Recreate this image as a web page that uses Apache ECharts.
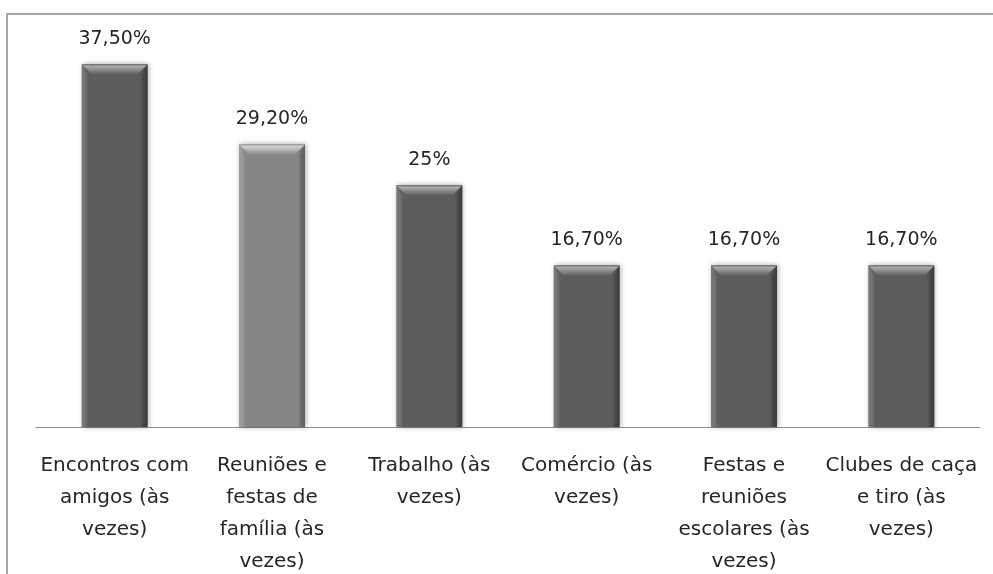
<!DOCTYPE html>
<html>
<head>
<meta charset="utf-8">
<script src="https://cdn.jsdelivr.net/npm/echarts@6/dist/echarts.min.js"></script>
<style>
html,body{margin:0;padding:0;background:#fff;}
#chart{width:993px;height:574px;}
</style>
</head>
<body>
<div id="chart"></div>
<script>
const categories = [
  "Encontros com\namigos (às\nvezes)",
  "Reuniões e\nfestas de\nfamília (às\nvezes)",
  "Trabalho (às\nvezes)",
  "Comércio (às\nvezes)",
  "Festas e\nreuniões\nescolares (às\nvezes)",
  "Clubes de caça\ne tiro (às\nvezes)"
];
const values = [37.5, 29.2, 25, 16.7, 16.7, 16.7];
const highlightIndex = 1;

function fmt(v) {
  if (Number.isInteger(v)) return v + "%";
  return v.toFixed(2).replace(".", ",") + "%";
}

const chart = echarts.init(document.getElementById("chart"), null, {renderer: "canvas"});

function renderItem(params, api) {
  const idx = params.dataIndex;
  const v = api.value(1);
  const topPt = api.coord([api.value(0), v]);
  const basePt = api.coord([api.value(0), 0]);
  const w = 66;
  const b = 10;
  const left = topPt[0] - w / 2;
  const right = topPt[0] + w / 2;
  const top = topPt[1];
  const bottom = basePt[1];
  const hl = idx === highlightIndex;
  const base = hl ? "#858585" : "#5c5c5c";
  const edgeL = hl ? "#989898" : "#6e6e6e";
  const edgeR = hl ? "#6e6e6e" : "#444444";
  const bevEdge = hl ? "#9a9a9a" : "#6a6a6a";
  const bevTop = hl ? "#cfcfcf" : "#ababab";
  const bevBot = hl ? "#8c8c8c" : "#626262";
  return {
    type: "group",
    children: [
      {
        type: "rect",
        shape: {x: left, y: top, width: w, height: bottom - top},
        style: {
          fill: new echarts.graphic.LinearGradient(0, 0, 1, 0, [
            {offset: 0, color: edgeL},
            {offset: 0.12, color: base},
            {offset: 0.88, color: base},
            {offset: 1, color: edgeR}
          ]),
          shadowBlur: 5,
          shadowColor: "rgba(0,0,0,0.35)",
          shadowOffsetX: 1,
          shadowOffsetY: 0
        }
      },
      {
        type: "polygon",
        shape: {points: [[left, top], [right, top], [right - b, top + b], [left + b, top + b]]},
        style: {
          fill: new echarts.graphic.LinearGradient(0, 0, 0, 1, [
            {offset: 0, color: bevEdge},
            {offset: 0.2, color: bevTop},
            {offset: 1, color: bevBot}
          ])
        }
      },
      {
        type: "polygon",
        shape: {points: [[left, top], [left + 5, top + b], [left + 5, bottom], [left, bottom]]},
        style: {fill: "rgba(255,255,255,0.08)"}
      },
      {
        type: "polygon",
        shape: {points: [[right, top], [right - 5, top + b], [right - 5, bottom], [right, bottom]]},
        style: {fill: "rgba(0,0,0,0.12)"}
      },
      {
        type: "text",
        style: {
          x: topPt[0],
          y: top - 16,
          text: fmt(v),
          fill: "#262626",
          font: "19px 'DejaVu Sans'",
          textAlign: "center",
          textVerticalAlign: "bottom"
        }
      }
    ]
  };
}

chart.setOption({
  animation: false,
  backgroundColor: "#ffffff",
  graphic: [
    {
      type: "polyline",
      shape: {points: [[7, 580], [7, 14], [1000, 14]]},
      style: {stroke: "#a6a6a6", lineWidth: 2, fill: null},
      silent: true
    }
  ],
  grid: {left: 36, right: 13, top: 40, bottom: 147, containLabel: false, outerBoundsMode: "none"},
  xAxis: {
    type: "category",
    data: categories,
    axisLine: {show: true, lineStyle: {color: "#8c8c8c", width: 1}},
    axisTick: {show: false},
    axisLabel: {
      interval: 0,
      margin: 23,
      color: "#262626",
      fontFamily: "DejaVu Sans",
      fontSize: 20,
      lineHeight: 32
    }
  },
  yAxis: {
    type: "value",
    min: 0,
    max: 40,
    show: false,
    splitLine: {show: false}
  },
  series: [
    {
      type: "custom",
      renderItem: renderItem,
      data: values.map((v, i) => [i, v]),
      encode: {x: 0, y: 1},
      clip: false
    }
  ]
});
</script>
</body>
</html>
